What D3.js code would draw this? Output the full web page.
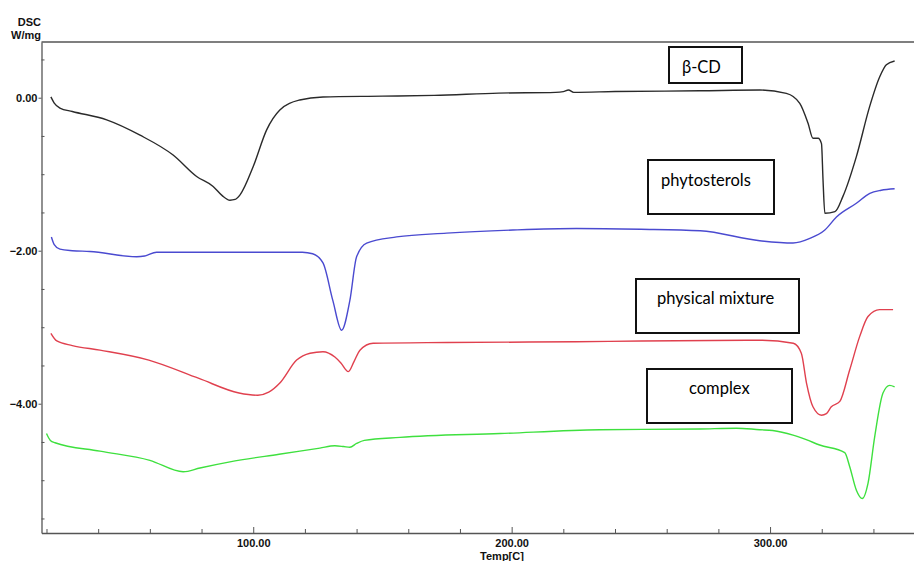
<!DOCTYPE html>
<html>
<head>
<meta charset="utf-8">
<script src="https://cdn.jsdelivr.net/npm/d3@7"></script>
<style>
  html, body { margin: 0; padding: 0; background: #fff; }
  svg { display: block; }
</style>
</head>
<body>
<svg id="chart" width="914" height="561"></svg>
<script>
// ---------- DATA ----------
const seriesNames = ["β-CD", "phytosterols", "physical mixture", "complex"];

const betaCdTemp = [21.7, 23, 25.2, 30, 43.3, 56.2, 69, 78.1, 84.5, 88, 91, 93, 94.9, 100, 105.2, 110.3, 118, 127, 150, 170, 195, 217, 220, 222, 224, 240, 272.8, 296, 306.3, 311.5, 314.7, 316.6, 318.6, 319.9, 320.5, 321.2, 325.1, 328.2, 333.4, 338.5, 342.4, 345, 348.2];
const betaCdValue = [0.01, -0.07, -0.135, -0.18, -0.29, -0.49, -0.75, -1.03, -1.16, -1.28, -1.34, -1.33, -1.27, -0.90, -0.42, -0.16, -0.03, 0.01, 0.02, 0.03, 0.06, 0.07, 0.08, 0.10, 0.07, 0.08, 0.09, 0.10, 0.057, -0.074, -0.335, -0.53, -0.53, -0.60, -1.08, -1.51, -1.49, -1.29, -0.77, -0.12, 0.27, 0.43, 0.48];

const phytoTemp = [21.9, 23, 25.2, 30, 36.8, 54.9, 58, 62.6, 80, 100, 119, 123, 127, 130.8, 134.2, 137.4, 140, 143.9, 155.5, 174.8, 200.5, 225, 250, 273, 296, 308.9, 315.4, 321.2, 325.7, 333.4, 338.6, 343, 348.2];
const phytoValue = [-1.82, -1.92, -1.98, -2.00, -2.01, -2.08, -2.07, -2.02, -2.02, -2.02, -2.02, -2.04, -2.16, -2.65, -3.04, -2.65, -2.08, -1.90, -1.82, -1.77, -1.73, -1.71, -1.72, -1.74, -1.87, -1.90, -1.84, -1.73, -1.56, -1.38, -1.25, -1.21, -1.19];

const mixtureTemp = [21.7, 24, 30, 40.7, 59.6, 79, 94.5, 101.8, 106, 110.3, 116.8, 122, 127, 131.6, 134, 136.8, 139, 141.3, 146.4, 175, 225, 250, 297, 309, 312.1, 314.1, 316.6, 319.9, 321.8, 323.7, 327, 330.8, 334.7, 337.9, 342.4, 347.6];
const mixtureValue = [-3.08, -3.18, -3.24, -3.30, -3.43, -3.67, -3.86, -3.89, -3.85, -3.73, -3.43, -3.34, -3.32, -3.39, -3.47, -3.58, -3.45, -3.30, -3.21, -3.20, -3.19, -3.18, -3.17, -3.21, -3.34, -3.73, -4.04, -4.15, -4.13, -4.04, -3.97, -3.56, -3.12, -2.86, -2.77, -2.77];

const complexTemp = [20, 21.5, 23.3, 40.7, 60, 72.9, 79.4, 91, 110, 125.8, 131.6, 135, 137.4, 140, 143, 156.8, 195.5, 234, 272.8, 287, 296, 301, 308.9, 314, 319.2, 328.9, 330.8, 333.4, 335.7, 337.9, 340.5, 343.7, 346.3, 348.2];
const complexValue = [-4.39, -4.48, -4.51, -4.62, -4.74, -4.89, -4.84, -4.76, -4.66, -4.58, -4.55, -4.56, -4.57, -4.52, -4.48, -4.44, -4.39, -4.34, -4.33, -4.32, -4.34, -4.35, -4.41, -4.47, -4.54, -4.64, -4.82, -5.13, -5.24, -5.04, -4.43, -3.86, -3.76, -3.78];

const xMajorTicks = [100, 200, 300];
const xMinorTicks = [20, 40, 60, 80, 120, 140, 160, 180, 220, 240, 260, 280, 320, 340];
const yMajorTicks = [0, -2, -4];
const yMinorTicks = [0.5, -0.5, -1, -1.5, -2.5, -3, -3.5, -4.5, -5, -5.5];

// ---------- LAYOUT ----------
const svg = d3.select("#chart");
const L = 41.5, T = 42, R = 914, B = 533;
const x = d3.scaleLinear().domain([18.07, 355.7]).range([L, R]);
const y = d3.scaleLinear().domain([0.728, -5.69]).range([T, B]);

const axisColor = "#555";
const tickFont = "bold 11px 'Liberation Sans', Arial, sans-serif";

// frame: top border
svg.append("line").attr("x1", L).attr("x2", R).attr("y1", T).attr("y2", T)
  .attr("stroke", axisColor).attr("stroke-width", 1.3);

// x axis
const xAxisMajor = d3.axisBottom(x).tickValues(xMajorTicks).tickFormat(d3.format(".2f"))
  .tickSizeInner(-6).tickSizeOuter(0).tickPadding(6);
const gx = svg.append("g").attr("transform", `translate(0,${B})`).call(xAxisMajor);
gx.select(".domain").attr("stroke", axisColor).attr("stroke-width", 1.3);
gx.selectAll(".tick line").attr("stroke", axisColor);
gx.selectAll(".tick text").style("font", tickFont).attr("fill", "#111");
const gxm = svg.append("g").attr("transform", `translate(0,${B})`)
  .call(d3.axisBottom(x).tickValues(xMinorTicks).tickFormat("").tickSizeInner(-4).tickSizeOuter(0));
gxm.select(".domain").remove();
gxm.selectAll(".tick line").attr("stroke", axisColor);

// y axis
const gy = svg.append("g").attr("transform", `translate(${L},0)`)
  .call(d3.axisLeft(y).tickValues(yMajorTicks).tickFormat(d3.format(".2f"))
    .tickSizeInner(3).tickSizeOuter(0).tickPadding(1));
gy.select(".domain").attr("stroke", axisColor).attr("stroke-width", 1.3);
gy.selectAll(".tick line").attr("stroke", axisColor);
gy.selectAll(".tick text").style("font", tickFont).attr("fill", "#111");
const gym = svg.append("g").attr("transform", `translate(${L},0)`)
  .call(d3.axisRight(y).tickValues(yMinorTicks).tickFormat("").tickSizeInner(3).tickSizeOuter(0));
gym.select(".domain").remove();
gym.selectAll(".tick line").attr("stroke", axisColor);

// axis titles
svg.append("text").attr("x", 41).attr("y", 26).attr("text-anchor", "end")
  .style("font", tickFont).attr("fill", "#111").text("DSC");
svg.append("text").attr("x", 41).attr("y", 38.5).attr("text-anchor", "end")
  .style("font", tickFont).attr("fill", "#111").text("W/mg");
svg.append("text").attr("x", 502).attr("y", 560).attr("text-anchor", "middle")
  .style("font", tickFont).attr("fill", "#111").text("Temp[C]");

// ---------- CURVES ----------
const series = [
  { temps: betaCdTemp, values: betaCdValue, color: "#2a2a2a" },
  { temps: phytoTemp, values: phytoValue, color: "#4a4ad0" },
  { temps: mixtureTemp, values: mixtureValue, color: "#e0404e" },
  { temps: complexTemp, values: complexValue, color: "#3ee03e" }
];
const line = d3.line().x(d => x(d[0])).y(d => y(d[1])).curve(d3.curveMonotoneX);
series.forEach(s => {
  const pts = s.temps.map((t, i) => [t, s.values[i]]);
  svg.append("path").datum(pts).attr("d", line)
    .attr("fill", "none").attr("stroke", s.color).attr("stroke-width", 1.4);
});

// ---------- LABEL BOXES ----------
const boxes = [
  { x0: 669, y0: 47, x1: 742, y1: 83, tx: 682, ty: 73 },
  { x0: 648, y0: 160, x1: 774, y1: 214, tx: 661, ty: 186 },
  { x0: 636, y0: 279, x1: 799, y1: 333, tx: 657, ty: 304 },
  { x0: 647, y0: 369, x1: 792, y1: 423, tx: 689, ty: 394 }
];
boxes.forEach((b, i) => {
  svg.append("rect").attr("x", b.x0).attr("y", b.y0)
    .attr("width", b.x1 - b.x0).attr("height", b.y1 - b.y0)
    .attr("fill", "#fff").attr("stroke", "#111").attr("stroke-width", 2);
  svg.append("text").attr("x", b.tx).attr("y", b.ty)
    .style("font", "16.5px Lato, 'Open Sans', sans-serif").attr("fill", "#000")
    .text(seriesNames[i]);
});
</script>
</body>
</html>
